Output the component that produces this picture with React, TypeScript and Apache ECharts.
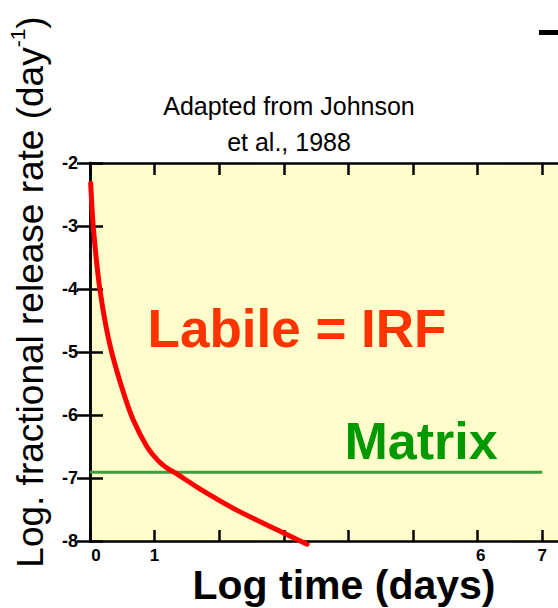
import React, { useEffect, useRef } from "react";
import * as echarts from "echarts";

const xTicks = [0, 1, 2, 3, 4, 5, 6, 7];
const shownXLabels = ["0", "1", "6", "7"];
const yTicks = [-8, -7, -6, -5, -4, -3, -2];

const labileX = [0.01, 0.03, 0.05, 0.1, 0.155, 0.24, 0.34, 0.52, 0.67, 0.88, 1.05, 1.19, 1.32, 1.68, 2.27, 2.99, 3.36];
const labileY = [-2.32, -2.7, -3.01, -3.55, -4.02, -4.55, -5.02, -5.65, -6.08, -6.5, -6.72, -6.84, -6.92, -7.16, -7.51, -7.87, -8.05];

const matrixX = [0, 7];
const matrixY = [-6.91, -6.91];

const FONT = "'Liberation Sans', Arial, sans-serif";

export default function App() {
  const ref = useRef<HTMLDivElement>(null);
  useEffect(() => {
    if (!ref.current) return;
    const chart = echarts.init(ref.current, undefined, { renderer: "svg" });
    const axisLine = { show: true, lineStyle: { color: "#000", width: 2.5 } };
    const lab = { color: "#000", fontFamily: FONT, fontWeight: "bold", fontSize: 17, lineHeight: 14 };
    const xLabelFmt = (v: number) => {
      const s = String(v);
      if (!shownXLabels.includes(s)) return "";
      if (s === "0") return "{z|0}";
      if (s === "6") return "{s|6}";
      return "{n|" + s + "}";
    };
    chart.setOption({
      animation: false,
      backgroundColor: "#fff",
      grid: {
        left: 90,
        top: 163,
        right: 39,
        bottom: 67,
        show: true,
        backgroundColor: "#FFFDCC",
        borderWidth: 0,
      },
      xAxis: [
        {
          type: "value",
          position: "bottom",
          min: xTicks[0],
          max: 7.29,
          interval: 1,
          axisLine,
          axisTick: { show: true, inside: true, length: 11, lineStyle: { color: "#000", width: 2.5 } },
          axisLabel: {
            show: true,
            margin: 7,
            ...lab,
            formatter: xLabelFmt,
            rich: {
              n: { ...lab },
              z: { ...lab, padding: [0, 0, 0, 12] },
              s: { ...lab, padding: [0, 0, 0, 6] },
            },
          },
          splitLine: { show: false },
        },
        {
          type: "value",
          position: "top",
          min: xTicks[0],
          max: 7.29,
          interval: 1,
          axisLine,
          axisTick: { show: true, inside: true, length: 12, lineStyle: { color: "#000", width: 2.5 } },
          axisLabel: { show: false },
          splitLine: { show: false },
        },
      ],
      yAxis: [
        {
          type: "value",
          position: "left",
          min: yTicks[0],
          max: yTicks[yTicks.length - 1],
          interval: 1,
          axisLine,
          axisTick: { show: true, inside: true, length: 13, lineStyle: { color: "#000", width: 2.5 } },
          axisLabel: {
            show: true,
            margin: 12,
            ...lab,
            fontSize: 18,
            lineHeight: 18,
          },
          splitLine: { show: false },
        },
        {
          type: "value",
          position: "right",
          min: yTicks[0],
          max: yTicks[yTicks.length - 1],
          interval: 1,
          axisLine,
          axisTick: { show: true, inside: true, length: 13, lineStyle: { color: "#000", width: 2.5 } },
          axisLabel: { show: false },
          splitLine: { show: false },
        },
      ],
      series: [
        {
          type: "line",
          name: "Matrix",
          data: matrixX.map((x, i) => [x, matrixY[i]]),
          showSymbol: false,
          symbol: "none",
          clip: false,
          lineStyle: { color: "#3E9E3E", width: 3 },
          z: 3,
        },
        {
          type: "line",
          name: "Labile",
          data: labileX.map((x, i) => [x, labileY[i]]),
          smooth: 0.2,
          showSymbol: false,
          symbol: "none",
          clip: false,
          lineStyle: { color: "#FF0000", width: 5, join: "round", cap: "round" },
          z: 4,
        },
      ],
      graphic: [
        {
          type: "text",
          x: 289,
          y: 106,
          style: {
            text: "Adapted from Johnson",
            font: `25px ${FONT}`,
            fill: "#000",
            align: "center",
            verticalAlign: "middle",
          },
        },
        {
          type: "text",
          x: 289,
          y: 142,
          style: {
            text: "et al., 1988",
            font: `25px ${FONT}`,
            fill: "#000",
            align: "center",
            verticalAlign: "middle",
          },
        },
        {
          type: "text",
          x: 297,
          y: 328,
          z: 10,
          style: {
            text: "Labile = IRF",
            font: `bold 53px ${FONT}`,
            fill: "#FF3300",
            align: "center",
            verticalAlign: "middle",
          },
        },
        {
          type: "text",
          x: 421,
          y: 441,
          z: 10,
          style: {
            text: "Matrix",
            font: `bold 52px ${FONT}`,
            fill: "#009900",
            align: "center",
            verticalAlign: "middle",
          },
        },
        {
          type: "text",
          x: 344,
          y: 585,
          z: 10,
          style: {
            text: "Log time (days)",
            font: `bold 41px ${FONT}`,
            lineHeight: 34,
            fill: "#000",
            align: "center",
            verticalAlign: "middle",
          },
        },
        {
          type: "text",
          x: 28,
          y: 292,
          rotation: Math.PI / 2,
          z: 10,
          style: {
            text: "{a|Log. fractional release rate (day}{s|-1}{a|)}",
            align: "center",
            verticalAlign: "middle",
            rich: {
              a: { fontFamily: FONT, fontSize: 37, fill: "#000", color: "#000", lineHeight: 42, verticalAlign: "bottom" },
              s: { fontFamily: FONT, fontSize: 21, fill: "#000", color: "#000", lineHeight: 42, verticalAlign: "top", padding: [0, 0, 16, 0] },
            },
          },
        },
        {
          type: "rect",
          shape: { x: 539, y: 30, width: 25, height: 5 },
          style: { fill: "#000" },
        },
      ],
    });
    return () => chart.dispose();
  }, []);
  return (
    <div
      ref={ref}
      style={{ position: "fixed", left: 0, top: 0, width: 600, height: 608 }}
    />
  );
}
